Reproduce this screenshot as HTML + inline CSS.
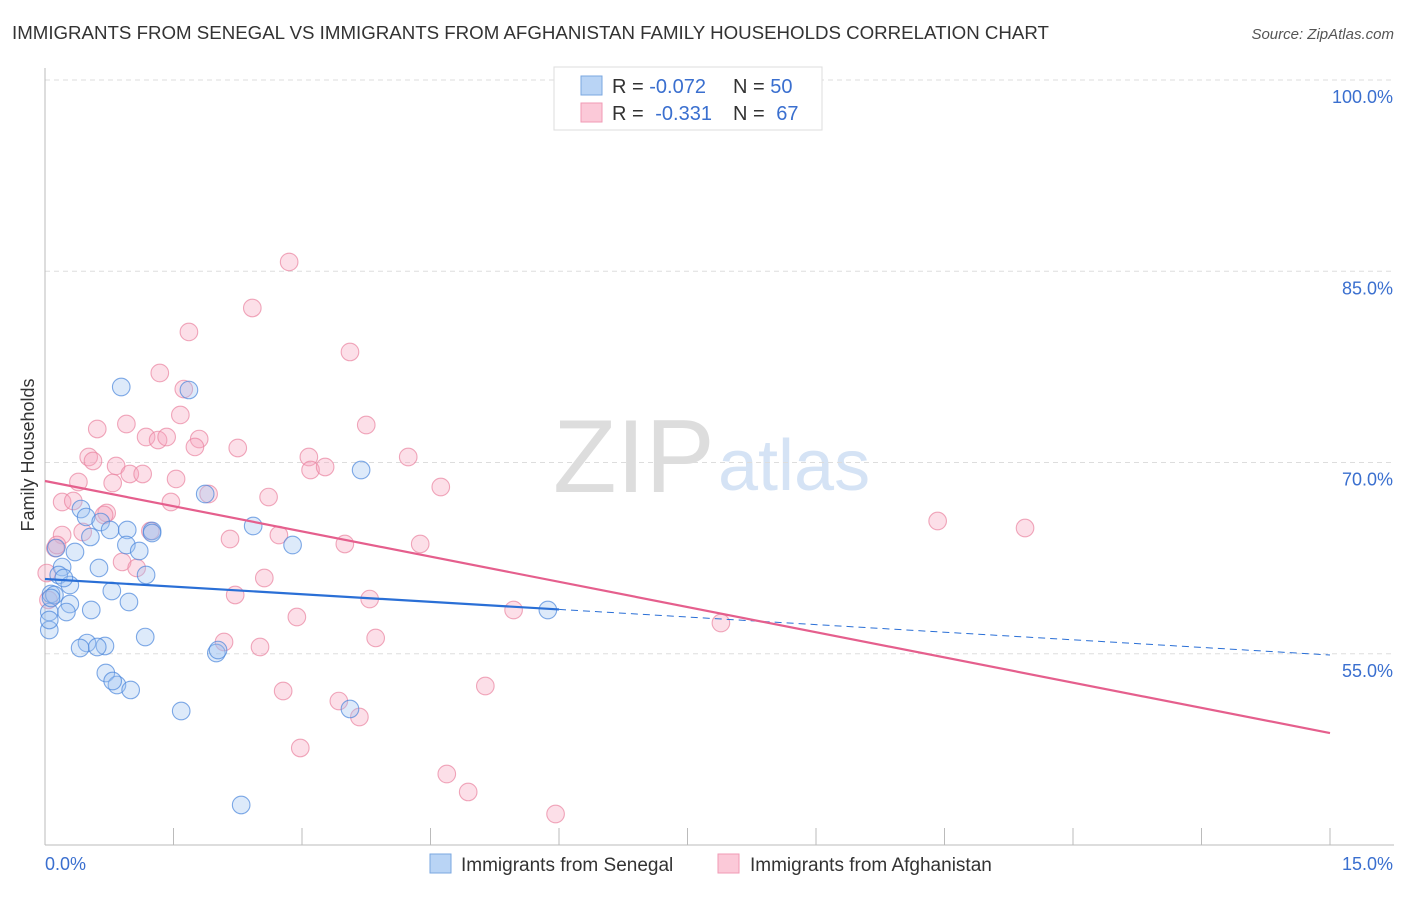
<!DOCTYPE html>
<html><head><meta charset="utf-8">
<style>
body{margin:0;background:#fff;font-family:"Liberation Sans",sans-serif;}
svg text{font-family:"Liberation Sans",sans-serif;}
</style></head>
<body>
<svg id="chart" width="1406" height="892" xmlns="http://www.w3.org/2000/svg">
<text x="12" y="39" font-size="18.7" fill="#333">IMMIGRANTS FROM SENEGAL VS IMMIGRANTS FROM AFGHANISTAN FAMILY HOUSEHOLDS CORRELATION CHART</text>
<text x="1394" y="39" font-size="15" fill="#555" font-style="italic" text-anchor="end">Source: ZipAtlas.com</text>
<g>
<text x="553" y="492" font-size="104" font-family="Liberation Serif, serif" fill="#ddd">ZIP</text>
<text x="718" y="490" font-size="72" fill="#d5e3f5">atlas</text>
</g>
<g id="grid"></g>
<g id="axes"></g>
<g id="pts"></g>
<g id="trends"></g>
<text x="34" y="455" font-size="18" fill="#333" text-anchor="middle" transform="rotate(-90 34 455)">Family Households</text>
<g>
<rect x="554" y="67" width="268" height="63" fill="#fff" stroke="#ddd"/>
<rect x="581" y="76" width="21" height="19" fill="#b9d4f5" stroke="#7aa7e0"/>
<rect x="581" y="103" width="21" height="19" fill="#fbc9d8" stroke="#f09ab5"/>
<text x="612" y="93" font-size="20" fill="#333">R = <tspan fill="#3a6fcf">-0.072</tspan></text>
<text x="733" y="93" font-size="20" fill="#333">N = <tspan fill="#3a6fcf">50</tspan></text>
<text x="612" y="120" font-size="20" fill="#333">R = <tspan fill="#3a6fcf" dx="6">-0.331</tspan></text>
<text x="733" y="120" font-size="20" fill="#333">N = <tspan fill="#3a6fcf" dx="6">67</tspan></text>
</g>
<g>
<rect x="430" y="854" width="21" height="19" fill="#b9d4f5" stroke="#7aa7e0"/>
<text x="461" y="871" font-size="19" fill="#333">Immigrants from Senegal</text>
<rect x="718" y="854" width="21" height="19" fill="#fbc9d8" stroke="#f09ab5"/>
<text x="750" y="871" font-size="19" fill="#333">Immigrants from Afghanistan</text>
</g>
<text x="45" y="870" font-size="18" fill="#3a6fcf">0.0%</text>
<text x="1393" y="870" font-size="18" fill="#3a6fcf" text-anchor="end">15.0%</text>
</svg>
<script>
const yTicks=[100,85,70,55];
const yTickLabels=["100.0%","85.0%","70.0%","55.0%"];
const xTicks=[0,1.5,3,4.5,6,7.5,9,10.5,12,13.5,15];
const senegalX=[0.89,1.68,3.69,0.42,0.48,0.65,0.53,0.76,0.96,1.25,0.13,0.35,0.95,1.10,2.89,2.43,1.87,0.20,0.63,1.18,0.16,0.29,0.07,0.11,0.78,0.98,0.29,0.54,0.25,0.05,0.05,0.49,0.70,0.61,1.17,2.00,2.02,0.71,0.84,1.00,1.59,3.56,2.29,5.87,1.25,0.07,0.05,0.22,0.41,0.79];
const senegalY=[75.92,75.69,69.41,66.35,65.73,65.33,64.16,64.71,64.71,64.63,63.29,62.98,63.53,63.06,63.53,65.02,67.53,61.80,61.73,61.18,61.18,60.39,59.69,59.61,59.92,59.06,58.90,58.43,58.27,56.86,58.27,55.84,55.61,55.53,56.31,55.06,55.29,53.49,52.55,52.16,50.51,50.67,43.14,58.43,64.47,59.37,57.65,60.94,55.45,52.86];
const afghanX=[2.85,2.42,1.68,3.56,1.34,1.62,1.58,0.61,0.95,3.75,1.18,1.32,1.42,1.80,1.75,2.25,0.51,0.56,0.83,3.08,4.24,3.10,3.27,0.99,1.14,0.79,1.53,0.39,4.62,1.91,0.20,0.33,1.47,2.61,0.72,0.69,10.42,11.44,0.44,0.20,1.23,2.16,2.73,3.50,4.38,0.12,0.14,0.90,1.07,2.56,0.02,2.22,3.79,2.94,5.47,7.89,3.86,2.09,2.51,0.04,2.78,5.14,3.43,3.67,2.98,4.69,4.94,5.96];
const afghanY=[85.73,82.12,80.24,78.67,77.02,75.76,73.73,72.63,73.02,72.94,72.00,71.76,72.00,71.84,71.22,71.14,70.43,70.12,69.73,70.43,70.43,69.41,69.65,69.10,69.10,68.39,68.71,68.47,68.08,67.53,66.90,66.98,66.90,67.29,66.04,65.88,65.41,64.86,64.55,64.31,64.63,64.00,64.31,63.61,63.61,63.29,63.53,62.20,61.73,60.94,61.33,59.61,59.29,57.88,58.43,57.41,56.24,55.92,55.53,59.22,52.08,52.47,51.29,50.04,47.61,45.57,44.16,42.43];
const senegalTrend=[60.86,54.90];
const afghanTrend=[68.55,48.78];
const senegalSolidEnd=6.0;

const NS="http://www.w3.org/2000/svg";
const X=v=>45+v*(1285/15);
const Y=v=>80+(100-v)*12.75;
function mk(tag,attrs,parent){const e=document.createElementNS(NS,tag);for(const k in attrs)e.setAttribute(k,attrs[k]);parent.appendChild(e);return e;}
const grid=document.getElementById('grid'),axes=document.getElementById('axes'),pts=document.getElementById('pts'),tr=document.getElementById('trends');
yTicks.forEach((t,i)=>{
  const l=mk('line',{x1:45,x2:1394,y1:Y(t),y2:Y(t),stroke:'#ddd','stroke-dasharray':'5,4'},grid);
  
  
  const tx=mk('text',{x:1393,y:Y(t)+23,'font-size':18,fill:'#3a6fcf','text-anchor':'end'},grid);
  tx.textContent=yTickLabels[i];
  
  
});
const al=mk('line',{x1:45,x2:45,y1:68,y2:845,stroke:'#bbb'},axes);


const bl=mk('line',{x1:45,x2:1394,y1:845,y2:845,stroke:'#bbb'},axes);


xTicks.forEach(t=>{
  const l=mk('line',{x1:X(t),x2:X(t),y1:828,y2:845,stroke:'#bbb'},axes);
  
  
});
function drawPts(xs,ys,fill,stroke,name){
  xs.forEach((x,i)=>{
    const c=mk('circle',{cx:X(x),cy:Y(ys[i]),r:8.8,fill:fill,'fill-opacity':0.35,stroke:stroke,'stroke-width':1.1,'stroke-opacity':0.7},pts);
    
    
  });
}
drawPts(afghanX,afghanY,'#f5a3bd','#e9839f','afghanistan-point');
drawPts(senegalX,senegalY,'#9ec3f0','#4a86dc','senegal-point');
const sEnd=senegalTrend[0]+(senegalTrend[1]-senegalTrend[0])*senegalSolidEnd/15;
const t1=mk('line',{x1:X(0),y1:Y(senegalTrend[0]),x2:X(senegalSolidEnd),y2:Y(sEnd),stroke:'#2a6fd6','stroke-width':2.2},tr);


const t2=mk('line',{x1:X(senegalSolidEnd),y1:Y(sEnd),x2:X(15),y2:Y(senegalTrend[1]),stroke:'#2a6fd6','stroke-width':1,'stroke-dasharray':'7,5'},tr);


const t3=mk('line',{x1:X(0),y1:Y(afghanTrend[0]),x2:X(15),y2:Y(afghanTrend[1]),stroke:'#e55f8d','stroke-width':2.2},tr);


</script>
</body></html>
